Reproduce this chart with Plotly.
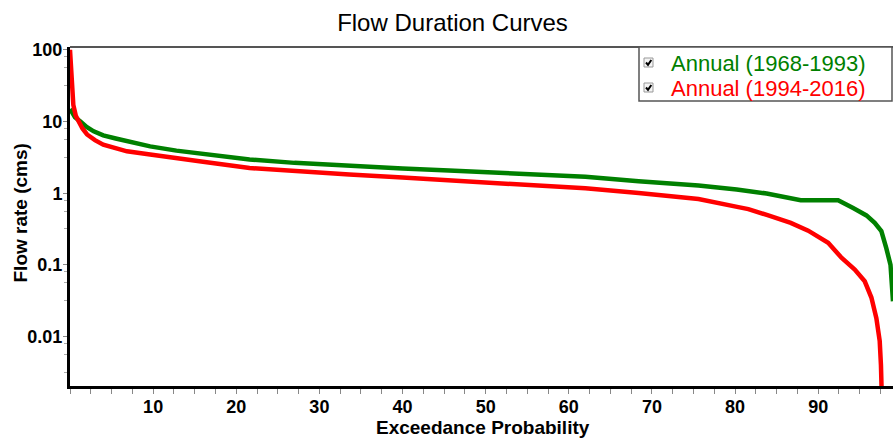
import plotly.graph_objects as go

# ---------------- data ----------------
green_name = "Annual (1968-1993)"
green_x = [0, 0.3, 0.6, 1.25, 2.0, 2.85, 4.0, 5.5, 6.85, 9.64, 12.8, 16.0, 21.6, 27.0,
           33.6, 40.0, 45.6, 50.0, 56.4, 62.0, 68.4, 72.0, 75.6, 80.2, 83.8, 87.9, 92.4,
           94.2, 95.8, 96.8, 97.6, 98.2, 98.7, 99.0]
green_y = [15, 13, 11.5, 10, 8.4, 7.3, 6.4, 5.8, 5.3, 4.5, 3.93, 3.5, 2.95, 2.65,
           2.38, 2.22, 2.07, 1.98, 1.82, 1.70, 1.47, 1.39, 1.28, 1.13, 0.99, 0.80, 0.80,
           0.62, 0.49, 0.386, 0.296, 0.17, 0.10, 0.031]

red_name = "Annual (1994-2016)"
red_x = [0, 0.1, 0.25, 0.4, 0.7, 1.05, 1.5, 2.05, 3.0, 4.0, 5.5, 6.85, 9.64, 12.8,
         16.0, 21.6, 27.0, 33.6, 40.0, 45.6, 50.0, 56.4, 62.0, 68.4, 72.0, 75.6, 80.4,
         81.6, 84.0, 86.7, 88.8, 91.2, 92.8, 94.4, 95.6, 96.4, 97.0, 97.4, 97.55, 97.65]
red_y = [100, 60, 30, 17, 12, 10, 8, 6.6, 5.5, 4.76, 4.2, 3.84, 3.46, 3.04,
         2.75, 2.25, 2.02, 1.82, 1.65, 1.50, 1.40, 1.29, 1.17, 1.01, 0.93, 0.83, 0.64,
         0.60, 0.49, 0.386, 0.30, 0.203, 0.126, 0.086, 0.059, 0.035, 0.018, 0.0087, 0.004, 0.0015]

x_tick_vals = [10, 20, 30, 40, 50, 60, 70, 80, 90]
x_tick_text = ["10", "20", "30", "40", "50", "60", "70", "80", "90"]
y_tick_vals = [0.01, 0.1, 1, 10, 100]
y_tick_text = ["0.01", "0.1", "1", "10", "100"]

title_text = "Flow Duration Curves"
x_title = "Exceedance Probability"
y_title = "Flow rate (cms)"

# ---------------- style ----------------
W, H = 893, 439
ML, MR, MT, MB = 70, 0, 47, 53
PW, PH = W - ML - MR, H - MT - MB
FONT = "Liberation Sans, Arial, sans-serif"
GREEN = "#008000"
RED = "#ff0000"


def px(xp):
    return (xp - ML) / PW


def py(yp):
    return (H - MB - yp) / PH


# minor y tick positions (visual marks within each decade)
y_minor = []
for k in range(-3, 3):
    for f in (0.8, 0.56, 0.32):
        y_minor.append(f * 10 ** k)

fig = go.Figure()
fig.add_trace(go.Scatter(x=green_x, y=green_y, mode="lines", name=green_name,
                         line=dict(color=GREEN, width=4.5), showlegend=False))
fig.add_trace(go.Scatter(x=red_x, y=red_y, mode="lines", name=red_name,
                         line=dict(color=RED, width=4.5), showlegend=False))

fig.update_layout(
    width=W, height=H,
    margin=dict(l=ML, r=MR, t=MT, b=MB),
    paper_bgcolor="white", plot_bgcolor="white",
    font=dict(family=FONT, color="black"),
    title=dict(text=title_text, x=452.5 / W, xanchor="center", xref="container",
               y=1 - 22.5 / H, yanchor="middle", yref="container",
               font=dict(size=24, family=FONT, color="black")),
    xaxis=dict(range=[0, 99], showgrid=False, zeroline=False,
               showline=True, linecolor="black", linewidth=3,
               tickmode="array", tickvals=x_tick_vals, ticktext=x_tick_text,
               ticks="outside", ticklen=5, tickcolor="#888", tickwidth=1,
               ticklabelstandoff=-3,
               tickfont=dict(size=18, family=FONT, color="black", weight="bold"),
               minor=dict(tickmode="linear", tick0=0, dtick=2.5, ticks="outside",
                          ticklen=5, tickcolor="#888", tickwidth=1, showgrid=False)),
    yaxis=dict(type="log", range=[-2.69, 2.04], showgrid=False, zeroline=False,
               showline=True, linecolor="black", linewidth=3,
               tickmode="array", tickvals=y_tick_vals, ticktext=y_tick_text,
               ticks="outside", ticklen=4, tickcolor="#888", tickwidth=1,
               ticklabelstandoff=-3,
               tickfont=dict(size=18, family=FONT, color="black", weight="bold"),
               minor=dict(tickmode="array", tickvals=y_minor, ticks="outside",
                          ticklen=3, tickcolor="#aaa", tickwidth=1, showgrid=False)),
)

# top frame line
fig.add_shape(type="line", xref="paper", yref="paper", x0=0, x1=1, y0=1, y1=1,
              line=dict(color="#555", width=2), layer="above")

# axis titles
fig.add_annotation(text=x_title, xref="paper", yref="paper", x=px(482.5), y=py(427),
                   xanchor="center", yanchor="middle", showarrow=False,
                   font=dict(size=19, family=FONT, color="black", weight="bold"))
fig.add_annotation(text=y_title, xref="paper", yref="paper", x=px(20), y=py(213.5),
                   xanchor="center", yanchor="middle", showarrow=False, textangle=-90,
                   font=dict(size=19, family=FONT, color="black", weight="bold"))

# custom legend box
fig.add_shape(type="rect", xref="paper", yref="paper",
              x0=px(639), x1=px(892), y0=py(101), y1=py(47),
              line=dict(color="#555", width=1.5), fillcolor="white", layer="above")
for (name, color, cy) in [(green_name, GREEN, 63), (red_name, RED, 88)]:
    fig.add_shape(type="rect", xref="paper", yref="paper",
                  x0=px(644), x1=px(653), y0=py(cy - 5 + 9), y1=py(cy - 5),
                  line=dict(color="#999", width=1), fillcolor="#f4f4f4", layer="above")
    path = "M {:.5f},{:.5f} L {:.5f},{:.5f} L {:.5f},{:.5f}".format(
        px(646), py(cy - 0.5), px(648), py(cy + 1.8), px(651.3), py(cy - 3))
    fig.add_shape(type="path", xref="paper", yref="paper", path=path,
                  line=dict(color="black", width=2), layer="above")
    fig.add_annotation(text=name, xref="paper", yref="paper", x=px(669), y=py(cy),
                       xanchor="left", yanchor="middle", showarrow=False,
                       font=dict(size=22, family=FONT, color=color))

fig.write_html("out.html", config={"displayModeBar": False},
               post_script="document.body.style.margin='0';")
